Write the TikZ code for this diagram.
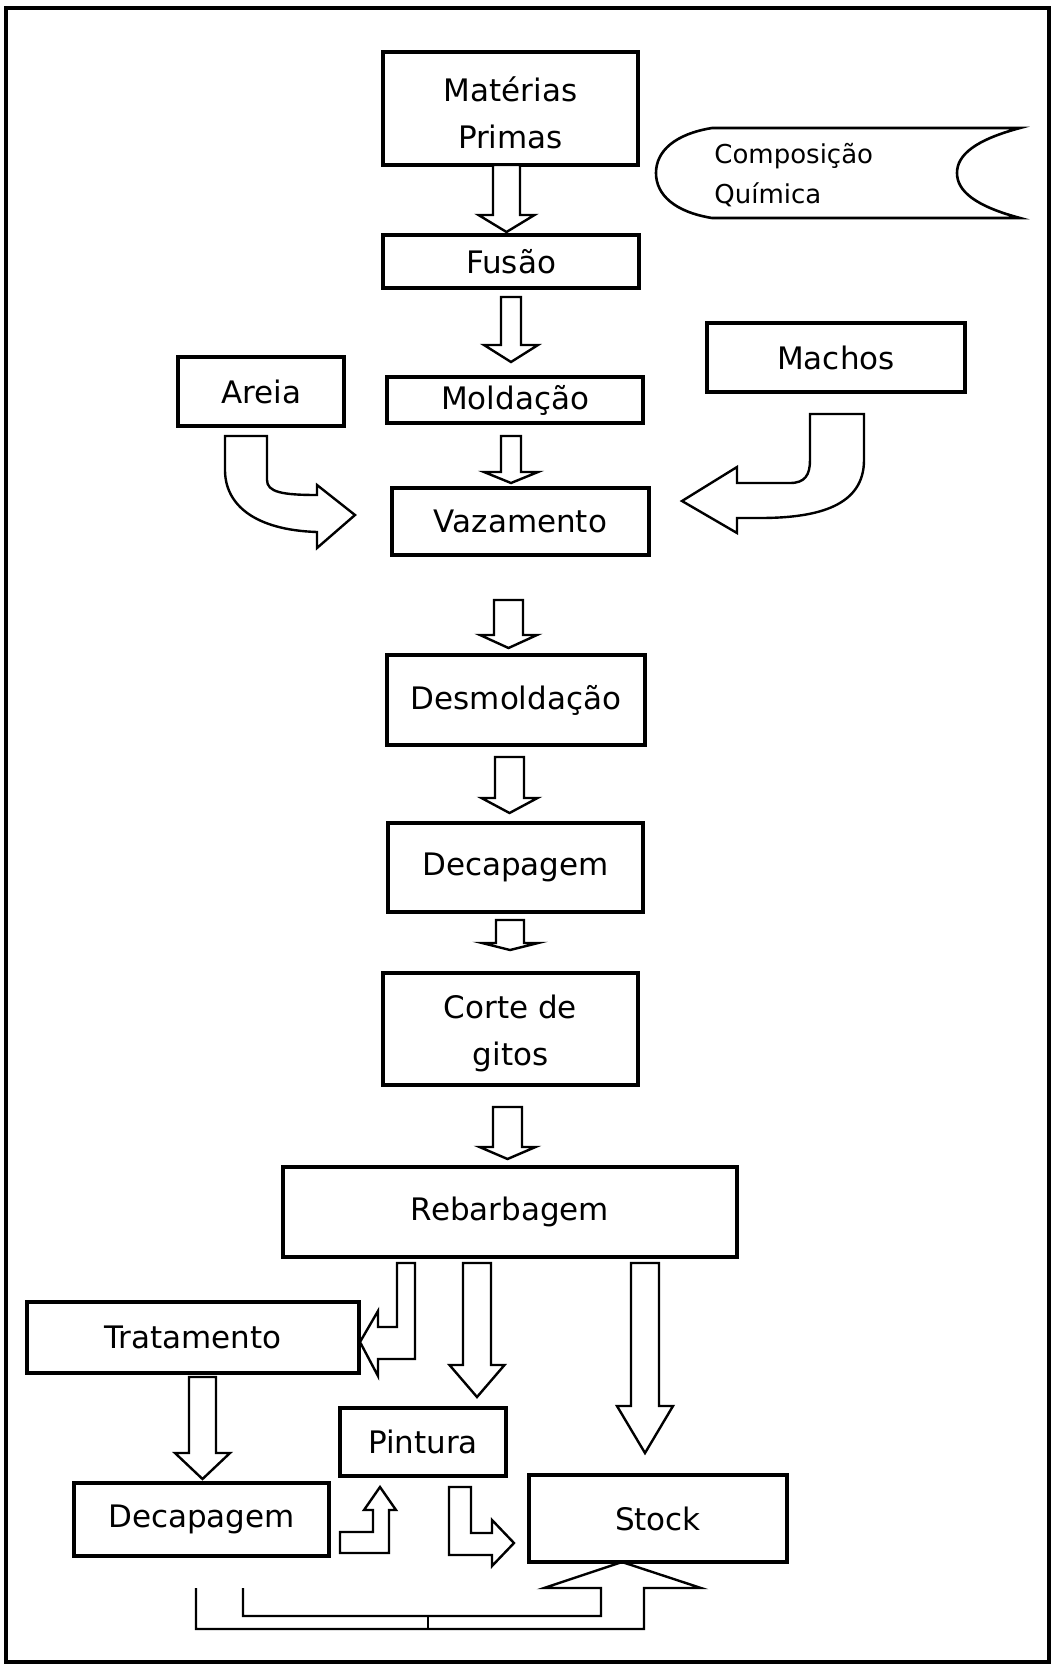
\documentclass[tikz,border=0pt]{standalone}
\usepackage{fontspec}
\setmainfont{DejaVu Sans}
\newcommand\bigdown[6]{% x, top, head base, tip, shaft half width, wing half width
  \draw[blockarrow] ({#1-#5},#2) -- ({#1+#5},#2) -- ({#1+#5},#3) -- ({#1+#6},#3)
    -- (#1,#4) -- ({#1-#6},#3) -- ({#1-#5},#3) -- cycle;}
\begin{document}
\begin{tikzpicture}[x=0.5pt,y=-0.5pt,
    procbox/.style={draw,line width=1.8pt,inner sep=0pt,align=center,
      font=\fontsize{15.5}{23.5}\selectfont},
    blockarrow/.style={draw,line width=1.2pt,line join=miter,fill=white},
    backline/.style={draw,line width=1.2pt}]
  \useasboundingbox (0,0) rectangle (1060,1666);
  % Page frame
  \draw [line width=2pt] (6,8) rectangle (1049,1662);
  % Process boxes
  \node[procbox,minimum width=127.5pt,minimum height=56.5pt] (mp) at (510.5,108.5) {\strut Matérias\\Primas};
  \node[procbox,minimum width=128pt,minimum height=26.5pt] (fu) at (511,261.5) {Fusão};
  \node[procbox,minimum width=128pt,minimum height=23pt] (mo) at (515,400) {Moldação};
  \node[procbox,minimum width=83pt,minimum height=34.5pt] (ar) at (261,391.5) {Areia};
  \node[procbox,minimum width=129pt,minimum height=34.5pt] (ma) at (836,357.5) {Machos};
  \node[procbox,minimum width=128.5pt,minimum height=33.5pt] (va) at (520.5,521.5) {Vazamento};
  \node[procbox,minimum width=129pt,minimum height=45pt] (dm) at (516,700) {Desmoldação};
  \node[procbox,minimum width=127.5pt,minimum height=44.5pt] (dc) at (515.5,867.5) {Decapagem};
  \node[procbox,minimum width=127.5pt,minimum height=56pt] (cg) at (510.5,1029) {\strut Corte de\\gitos};
  \node[procbox,minimum width=227pt,minimum height=45pt] (rb) at (510,1212) {Rebarbagem};
  \node[procbox,minimum width=166pt,minimum height=35.5pt] (tt) at (193,1337.5) {Tratamento};
  \node[procbox,minimum width=127.5pt,minimum height=36.5pt] (dc2) at (201.5,1519.5) {Decapagem};
  \node[procbox,minimum width=83pt,minimum height=34pt] (pt) at (423,1442) {Pintura};
  \node[procbox,minimum width=129pt,minimum height=43.5pt] (sk) at (658,1518.5) {Stock};
  % Composicao quimica tag
  \draw [line width=1.3pt] (712,128) -- (1020,128)
    .. controls (975,140) and (957,155) .. (957,173)
    .. controls (957,191) and (975,206) .. (1020,218) -- (712,218)
    .. controls (675,212) and (656,195) .. (656,173)
    .. controls (656,151) and (675,134) .. (712,128);
  \node[anchor=west,inner sep=0pt,align=left,font=\fontsize{13}{20}\selectfont] (cq) at (714,175) {Composição\\Química};
  % Straight arrows down the main line
  \bigdown{506.5}{165}{215}{232}{13.5}{28}
  \bigdown{511}{297}{345}{362}{10}{27}
  \bigdown{511}{436}{472}{483}{10}{27}
  \bigdown{508.5}{600}{635}{648}{14.5}{28.5}
  \bigdown{509.5}{757}{798}{813}{14.5}{28}
  \bigdown{510}{920}{943}{950}{14}{28}
  \bigdown{507.5}{1107}{1147}{1159}{14.5}{28}
  % Arrows leaving Rebarbagem and Tratamento
  \bigdown{477}{1263}{1365}{1397}{14}{27.5}
  \bigdown{645}{1263}{1406}{1453}{14}{28}
  \bigdown{202.5}{1377}{1453}{1479}{13.5}{27.5}
  % Curved arrows into Vazamento
  \draw[blockarrow] (225,436) -- (267,436) -- (267,480)
    .. controls (267,492) and (282,495) .. (317,495) -- (317,485) -- (355,515)
    -- (317,548) -- (317,532) .. controls (255,530) and (225,505) .. (225,470) -- cycle;
  \draw[blockarrow] (810,414) -- (864,414) -- (864,460)
    .. controls (864,505) and (820,518) .. (760,518) -- (737,518) -- (737,533)
    -- (682,501) -- (737,467) -- (737,483) -- (790,483)
    .. controls (805,483) and (810,475) .. (810,460) -- cycle;
  % Bent arrows at the bottom
  \draw[blockarrow] (397,1263) -- (415,1263) -- (415,1359) -- (378,1359) -- (378,1376)
    -- (360,1342) -- (378,1311) -- (378,1327) -- (397,1327) -- cycle;
  \draw[blockarrow] (340,1553) -- (389,1553) -- (389,1510) -- (396,1510) -- (380,1487)
    -- (364,1510) -- (373,1510) -- (373,1532) -- (340,1532) -- cycle;
  \draw[blockarrow] (449,1487) -- (471,1487) -- (471,1533) -- (492,1533) -- (492,1520)
    -- (514,1543) -- (492,1566) -- (492,1555) -- (449,1555) -- cycle;
  % Return line into Stock
  \draw[backline,line join=miter] (243,1588) -- (243,1616) -- (601,1616) -- (601,1588)
    -- (544,1588) -- (622,1562) -- (701,1588) -- (644,1588) -- (644,1629)
    -- (196,1629) -- (196,1588);
  \draw[backline] (428,1616) -- (428,1629);
\end{tikzpicture}
\end{document}
